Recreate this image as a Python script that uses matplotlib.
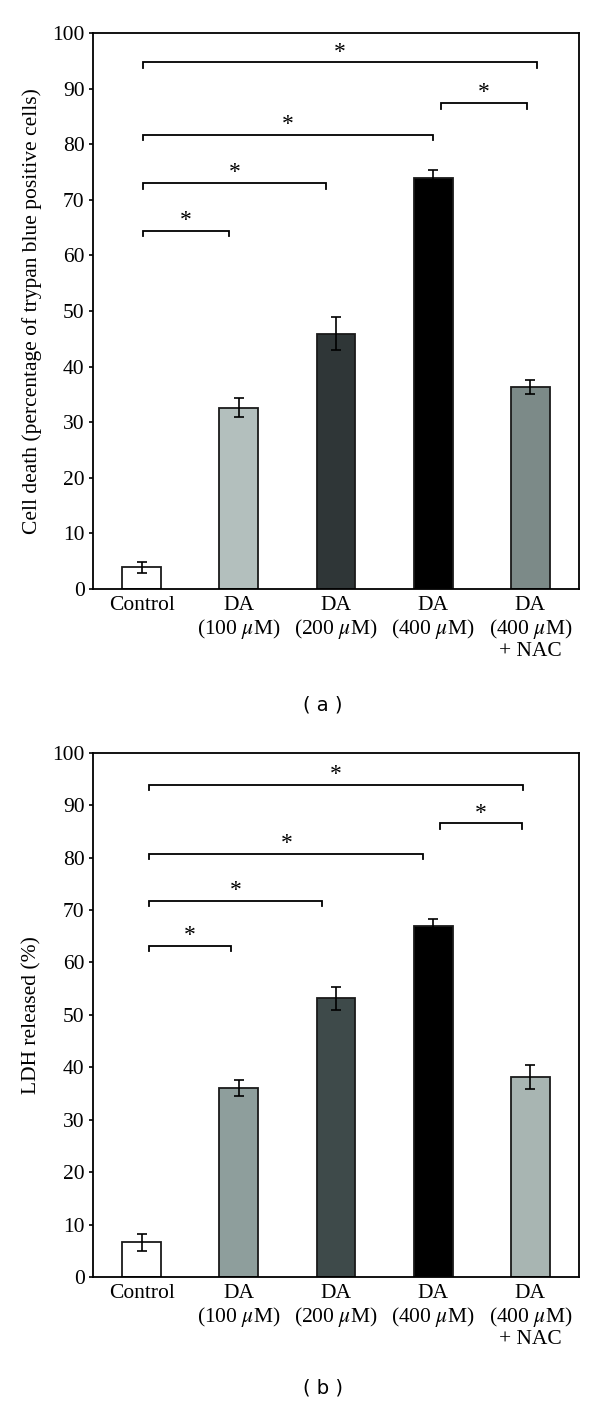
import matplotlib
matplotlib.use("Agg")
import matplotlib.pyplot as plt

plt.rcParams['font.family'] = ['Liberation Serif', 'DejaVu Serif']
plt.rcParams['mathtext.fontset'] = 'stix'

# data
groups = ["Control", "DA\n(100 $\\mu$M)", "DA\n(200 $\\mu$M)", "DA\n(400 $\\mu$M)", "DA\n(400 $\\mu$M)\n+ NAC"]

death_mean = [3.9, 32.6, 45.9, 74.0, 36.3]
death_err = [1.0, 1.7, 3.0, 1.4, 1.3]
death_colors = ["#ffffff", "#b3bfbd", "#2f3637", "#000000", "#7c8a88"]
# (start, end, height) of significance brackets
death_brackets = [(0.01, 0.90, 64.4), (0.01, 1.90, 73.0), (0.01, 3.0, 81.7),
                  (3.08, 3.96, 87.4), (0.01, 4.07, 94.7)]

ldh_mean = [6.6, 36.1, 53.2, 66.9, 38.2]
ldh_err = [1.6, 1.5, 2.2, 1.4, 2.3]
ldh_colors = ["#ffffff", "#8e9e9c", "#3e4a4a", "#000000", "#a8b5b2"]
ldh_brackets = [(0.08, 0.92, 63.1), (0.08, 1.86, 71.8), (0.08, 2.90, 80.7),
                (3.07, 3.91, 86.5), (0.08, 3.92, 93.8)]

yticks = list(range(0, 101, 10))

fig = plt.figure(figsize=(6, 14.05), dpi=100)
ax_a = fig.add_axes([0.155, 0.5808, 0.81, 0.3957])
ax_b = fig.add_axes([0.155, 0.0911, 0.81, 0.3732])

FS = 15.5


def draw_panel(ax, means, errs, colors, brackets, ylabel):
    x = list(range(len(means)))
    ax.bar(x, means, width=0.4, color=colors, edgecolor="#1a1a1a", linewidth=1.3, zorder=2)
    ax.errorbar(x, means, yerr=errs, fmt="none", ecolor="black", elinewidth=1.2,
                capsize=3.5, capthick=1.2, zorder=3)
    for x1, x2, y in brackets:
        ax.plot([x1, x1, x2, x2], [y - 1.0, y, y, y - 1.0], color="black", lw=1.3,
                solid_joinstyle="miter", zorder=3)
        ax.annotate("*", xy=((x1 + x2) / 2, y), xytext=(0, 7.5), textcoords="offset points",
                    ha="center", va="center", fontsize=17)
    ax.set_xlim(-0.5, 4.5)
    ax.set_ylim(0, 100)
    ax.set_yticks(yticks)
    ax.set_xticks(x)
    ax.set_xticklabels(groups, fontsize=FS, linespacing=1.1)
    ax.tick_params(axis="x", length=0, pad=5)
    ax.tick_params(axis="y", direction="out", length=3, width=1.2, labelsize=FS, pad=3)
    for s in ax.spines.values():
        s.set_linewidth(1.3)
    ax.set_ylabel(ylabel, fontsize=FS)
    ax.yaxis.set_label_coords(-0.105, 0.5)


draw_panel(ax_a, death_mean, death_err, death_colors, death_brackets,
           "Cell death (percentage of trypan blue positive cells)")
draw_panel(ax_b, ldh_mean, ldh_err, ldh_colors, ldh_brackets, "LDH released (%)")

fig.text(323 / 600, 1 - 705 / 1405, "( a )", family="DejaVu Sans", fontsize=14,
         ha="center", va="center")
fig.text(323 / 600, 1 - 1388 / 1405, "( b )", family="DejaVu Sans", fontsize=14,
         ha="center", va="center")

fig.savefig("out.png", dpi=100, facecolor="white")
